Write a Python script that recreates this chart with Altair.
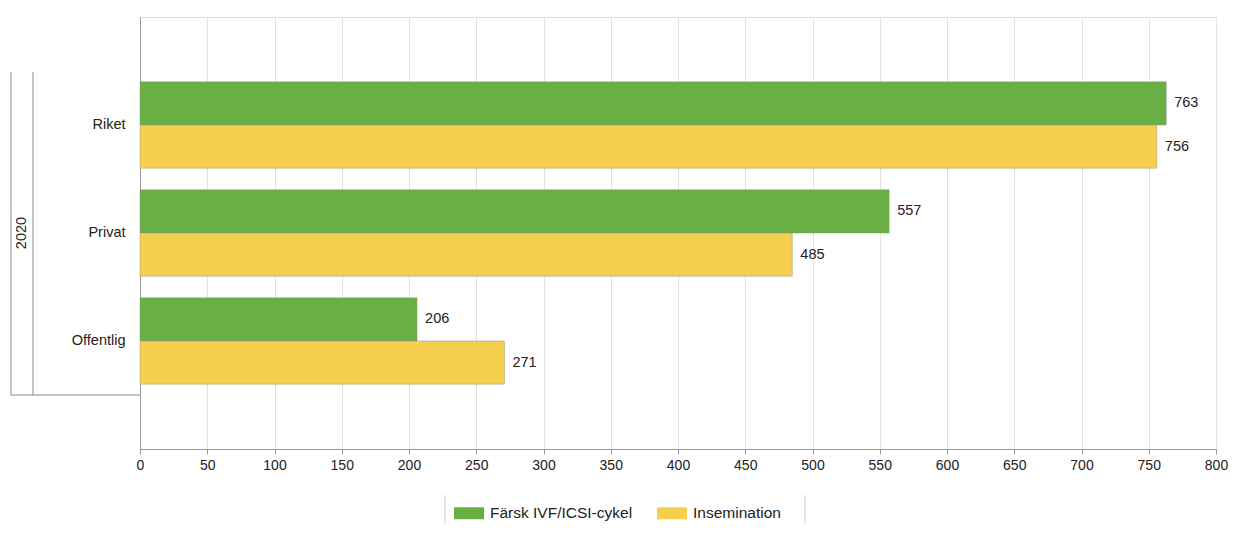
import altair as alt
import pandas as pd

categories = ["Riket", "Privat", "Offentlig"]
series = ["Färsk IVF/ICSI-cykel", "Insemination"]
fresh_values = [763, 557, 206]
insem_values = [756, 485, 271]
years = ["2020"]
colors = ["#6aaf43", "#f5d04e"]

rows = []
for c, f, i in zip(categories, fresh_values, insem_values):
    rows.append({"kategori": c, "serie": series[0], "varde": f})
    rows.append({"kategori": c, "serie": series[1], "varde": i})
df = pd.DataFrame(rows)

FONT = "Liberation Sans"

y_enc = alt.Y("kategori:N", sort=categories, title=None,
              scale=alt.Scale(paddingInner=0.2, paddingOuter=0.6),
              axis=alt.Axis(ticks=False, labelPadding=15, labelFontSize=14.5,
                            labelColor="#222", labelFont=FONT,
                            domainColor="#999", grid=False))
yoff_enc = alt.YOffset("serie:N", sort=series,
                       scale=alt.Scale(paddingInner=0, paddingOuter=0))
x_enc = alt.X("varde:Q", title=None,
              scale=alt.Scale(domain=[0, 800], nice=False),
              axis=alt.Axis(values=list(range(0, 801, 50)), tickSize=5,
                            tickColor="#999", domainColor="#999",
                            gridColor="#e2e2e2", labelFontSize=14,
                            labelColor="#222", labelFont=FONT,
                            labelPadding=4, labelFlush=False))

bars = alt.Chart(df).mark_bar(stroke="#8a8a8a", strokeOpacity=0.4,
                              strokeWidth=1).encode(
    y=y_enc, yOffset=yoff_enc, x=x_enc,
    color=alt.Color("serie:N", sort=series,
                    scale=alt.Scale(domain=series, range=colors),
                    legend=alt.Legend(title=None, orient="none",
                                      legendX=314, legendY=481,
                                      direction="horizontal", columns=2,
                                      symbolType="M-1,-0.4L1,-0.4L1,0.4L-1,0.4Z",
                                      symbolSize=900, symbolStrokeWidth=0,
                                      labelFontSize=15.5, labelFont=FONT,
                                      labelColor="#222", labelOffset=6,
                                      columnPadding=24, padding=0)),
)

labels = alt.Chart(df).mark_text(align="left", baseline="middle", dx=8,
                                 fontSize=14.5, font=FONT, color="#222").encode(
    y=alt.Y("kategori:N", sort=categories), yOffset=alt.YOffset("serie:N", sort=series),
    x="varde:Q", text="varde:Q")

decor = pd.DataFrame({"d": [0]})
rule1 = alt.Chart(decor).mark_rule(color="#8c8c8c").encode(
    x=alt.value(-129), y=alt.value(55), y2=alt.value(378))
rule2 = alt.Chart(decor).mark_rule(color="#8c8c8c").encode(
    x=alt.value(-107), y=alt.value(55), y2=alt.value(378))
rule3 = alt.Chart(decor).mark_rule(color="#8c8c8c").encode(
    x=alt.value(-129), x2=alt.value(0), y=alt.value(378))
leg1 = alt.Chart(decor).mark_rule(color="#d0d0d0").encode(
    x=alt.value(305), y=alt.value(478), y2=alt.value(515))
leg2 = alt.Chart(decor).mark_rule(color="#d0d0d0").encode(
    x=alt.value(665), y=alt.value(478), y2=alt.value(515))

year_text = alt.Chart(pd.DataFrame({"ar": years})).mark_text(
    angle=270, fontSize=14.5, font=FONT, color="#222", baseline="middle",
    align="center").encode(text="ar:N", x=alt.value(-118), y=alt.value(216))

chart = alt.layer(bars, labels, rule1, rule2, rule3, leg1, leg2, year_text).properties(
    width=1076, height=432,
    autosize=alt.AutoSizeParams(type="none"),
    padding={"left": 132, "top": 9, "right": 13, "bottom": 75},
).configure_view(stroke="#c9ccd2").configure(background="white")

chart.save("out.html", embed_options={"renderer": "svg", "actions": False})
